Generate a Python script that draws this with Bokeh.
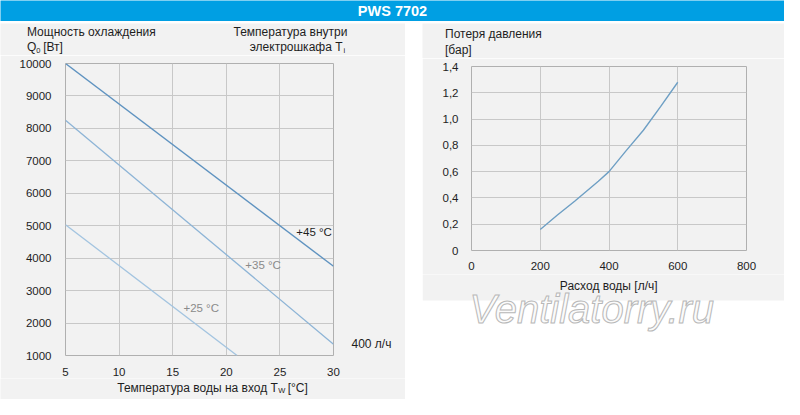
from bokeh.plotting import figure
from bokeh.models import Range1d, FixedTicker, Label, BoxAnnotation, Spacer, LinearAxis
from bokeh.layouts import column, row
from bokeh.embed import file_html
from bokeh.resources import INLINE

# ---- data ----
title_text = "PWS 7702"
tw = [5, 30]
q45 = [10000, 3750]
q35 = [8250, 1350]
tw25 = [5, 21]
q25 = [5030, 1000]
x_ticks_l = [5, 10, 15, 20, 25, 30]
y_ticks_l = [1000, 2000, 3000, 4000, 5000, 6000, 7000, 8000, 9000, 10000]
flow_note_y = 1343
flow_note = "400 л/ч"

flow = [200, 250, 300, 369, 400, 450, 500, 550, 600]
dp = [0.16, 0.27, 0.375, 0.527, 0.60, 0.76, 0.915, 1.095, 1.28]
x_ticks_r = [0, 200, 400, 600, 800]
y_ticks_r = [0, 0.2, 0.4, 0.6, 0.8, 1.0, 1.2, 1.4]
y_labels_r = ["0", "0,2", "0,4", "0,6", "0,8", "1,0", "1,2", "1,4"]

FONT = "Liberation Sans"
BG = "#f2f2f2"
GRID = "#c8c8c8"
BLUE = "#009fe3"
FS = "11.5px"
TS = "12px"
TXT = "#1e1e1e"
SX = 0.98
SY = 0.961
TOP = 21
GAP = 2
H = 378 - GAP

# ---- title bar ----
pt = figure(width=784, height=TOP, x_range=Range1d(0, 1), y_range=Range1d(0, 1),
            output_backend="svg", toolbar_location=None, min_border=0)
pt.axis.visible = False
pt.grid.visible = False
pt.outline_line_color = None
pt.background_fill_color = BLUE
pt.border_fill_color = BLUE
pt.add_layout(Label(x=0.5, y=0.5, text=title_text, text_align="center", text_baseline="middle",
                    text_color="white", text_font_style="bold", text_font_size="14.5px",
                    text_font=FONT))


def strip(w, h, x0, y0, bg):
    """Figure whose frame fills it; ranges are in reference-picture pixels."""
    x1 = x0 + w / SX
    y1 = y0 + h / SY
    p = figure(width=w, height=h, x_range=Range1d(x0, x1), y_range=Range1d(y1, y0),
               output_backend="svg", toolbar_location=None, min_border=0)
    p.axis.visible = False
    p.grid.visible = False
    p.outline_line_color = None
    p.background_fill_color = bg
    p.border_fill_color = bg
    return p


def lab(p, x, y, t, align="left", color=TXT, size=TS, base="middle", **kw):
    p.add_layout(Label(x=x, y=y, text=t, text_align=align, text_baseline=base,
                       text_color=color, text_font=FONT, text_font_size=size, **kw))


def style(p):
    p.background_fill_color = BG
    p.border_fill_color = BG
    p.outline_line_color = "#b0b0b0"
    p.grid.grid_line_color = GRID
    p.axis.axis_line_color = None
    p.axis.major_tick_line_color = None
    p.axis.minor_tick_line_color = None
    p.axis.major_label_text_font = FONT
    p.axis.major_label_text_font_size = FS
    p.axis.major_label_text_color = TXT


STRIP_Y0 = 22 + GAP / SY

# ================= left panel =================
LW = 405
lt_h, lm_h = 34 - GAP, 323
lb_h = H - lt_h - lm_h

lt = strip(LW, lt_h, 0, STRIP_Y0, BG)
lab(lt, 27, 33, "Мощность охлаждения")
lab(lt, 27, 49, "Q")
lab(lt, 36.5, 52, "0", size="7.5px")
lab(lt, 43.5, 49, "[Вт]")
lab(lt, 354, 33, "Температура внутри", align="right")
lab(lt, 349, 49, "электрошкафа T", align="right")
lab(lt, 350, 52, "i", size="7.5px")

pl = figure(width=LW, height=lm_h, x_range=Range1d(5, 30), y_range=Range1d(1000, 10000),
            output_backend="svg", toolbar_location=None,
            min_border_left=65, min_border_right=72, min_border_top=8, min_border_bottom=20)
style(pl)
pl.xaxis.ticker = FixedTicker(ticks=x_ticks_l)
pl.yaxis.ticker = FixedTicker(ticks=y_ticks_l)
pl.xaxis.major_label_standoff = 6
pl.yaxis.major_label_standoff = 8

pl.line(tw, q45, line_color="#5f93c0", line_width=1.4)
pl.line(tw, q35, line_color="#8db4d6", line_width=1.3)
pl.line(tw25, q25, line_color="#a3c4e0", line_width=1.3)

lab(pl, 29.85, 4800, "+45 °C", align="right", size=FS)
lab(pl, 21.77, 3776, "+35 °C", color="#8a8a8a", size=FS)
lab(pl, 16.0, 2457, "+25 °C", color="#8a8a8a", size=FS)

note_axis = LinearAxis(ticker=FixedTicker(ticks=[flow_note_y]),
                       major_label_overrides={flow_note_y: flow_note},
                       axis_line_color=None, major_tick_line_color=None,
                       minor_tick_line_color=None, major_label_standoff=12,
                       major_label_text_font=FONT, major_label_text_font_size=TS,
                       major_label_text_color=TXT)
pl.add_layout(note_axis, "right")

lb = strip(LW, lb_h, 0, 415 - lb_h / SY, BG)
lab(lb, 283, 402.7, "Температура воды на вход T", align="right")
lab(lb, 283.5, 405.5, "W", size="7.5px")
lab(lb, 293, 402.7, "[°C]")

# ================= right panel =================
RW = 362
rt_h, rm_h = 37 - GAP, 216
rb_h = H - rt_h - rm_h

rt = strip(RW, rt_h, 430, STRIP_Y0, BG)
lab(rt, 453, 35, "Потеря давления")
lab(rt, 453, 52, "[бар]")

pr = figure(width=RW, height=rm_h, x_range=Range1d(0, 800), y_range=Range1d(0, 1.4),
            output_backend="svg", toolbar_location=None,
            min_border_left=49, min_border_right=38, min_border_top=8, min_border_bottom=24)
style(pr)
pr.xaxis.ticker = FixedTicker(ticks=x_ticks_r)
pr.yaxis.ticker = FixedTicker(ticks=y_ticks_r)
pr.yaxis.major_label_overrides = {t: s for t, s in zip(y_ticks_r, y_labels_r)}
pr.xaxis.major_label_standoff = 5
pr.yaxis.major_label_standoff = 7
pr.line(flow, dp, line_color="#6e9fc4", line_width=1.4)

rb_y0 = 415 - rb_h / SY
rb = strip(RW, rb_h, 430, rb_y0, "white")
rb.add_layout(BoxAnnotation(left=430, right=800, top=rb_y0 - 2, bottom=312,
                            fill_color=BG, fill_alpha=1.0, line_color=None, level="image"))
lab(rb, 620, 297, "Расход воды [л/ч]", align="center")
lab(rb, 478, 320.5, "Ventilatorry.ru", color="#fbfbfb", size="40px", base="alphabetic",
    text_font_style="italic", text_outline_color="#b8b8b8")

left_col = column(column(lt), column(pl), column(lb))
right_col = column(column(rt), column(pr), column(rb))
layout = column(column(pt), Spacer(width=784, height=GAP),
                row(left_col, Spacer(width=784 - LW - RW, height=H), right_col))
open("out.html", "w").write(file_html(layout, INLINE))
